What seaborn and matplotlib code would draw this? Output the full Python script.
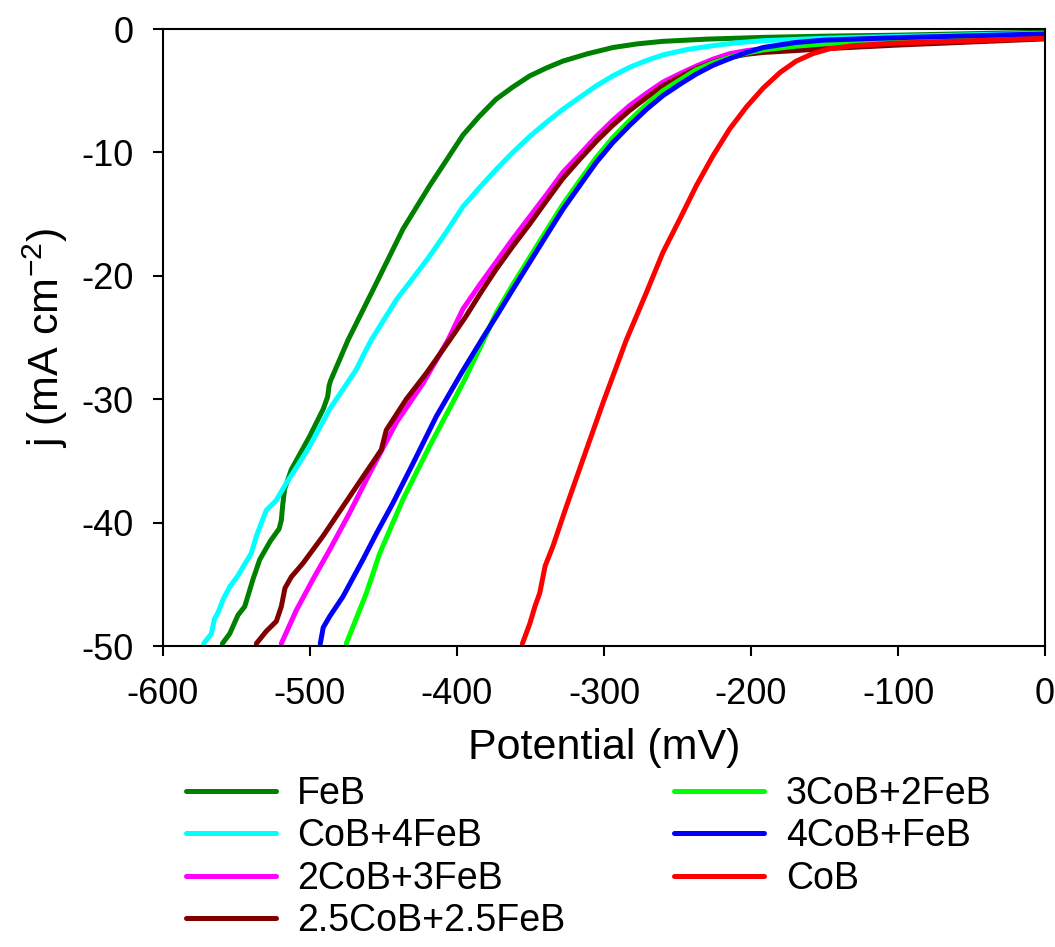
import matplotlib
matplotlib.use("Agg")
import matplotlib.pyplot as plt
import seaborn as sns
import pandas as pd

# Data: (potential mV, current density mA cm-2)
feb_v = [-559.6, -554.6, -549, -544.4, -538.8, -534.2, -527, -521, -519.5, -518.5, -517.3, -512.7,
         -500.2, -491, -488, -487, -486, -474.1, -454.9, -436.7, -418.6, -407, -396, -385, -373.5,
         -362, -350.5, -339, -327.9, -311, -293.9, -277, -259.9, -230, -191.8, -150, -100, -50, 0]
feb_j = [-49.8, -49.0, -47.5, -46.8, -44.6, -43.0, -41.5, -40.5, -39.8, -38.5, -37.3, -35.7,
         -33.0, -30.8, -29.8, -28.9, -28.5, -25.2, -20.6, -16.2, -12.7, -10.6, -8.6, -7.1, -5.7,
         -4.7, -3.8, -3.15, -2.6, -2.0, -1.5, -1.2, -1.0, -0.82, -0.68, -0.58, -0.5, -0.38, -0.25]

cob4feb_v = [-572.3, -567.1, -565, -562.6, -559, -554.6, -549, -545.6, -540, -536.5, -533, -529.7,
             -523, -516.1, -508, -500.2, -486.6, -468.5, -464, -458.3, -441, -430, -418.6, -407,
             -396, -385, -373.5, -362, -350.5, -339, -327.9, -316, -305.2, -294, -282.5, -271,
             -259.9, -243, -225.9, -210, -191.8, -150, -100, -50, 0]
cob4feb_j = [-49.8, -49.0, -47.8, -47.3, -46.2, -45.2, -44.3, -43.6, -42.5, -41.1, -40.0, -39.0,
             -38.2, -36.8, -35.3, -33.8, -30.8, -27.6, -26.5, -25.2, -21.9, -20.2, -18.4, -16.4,
             -14.4, -12.9, -11.4, -10.0, -8.7, -7.55, -6.5, -5.5, -4.6, -3.8, -3.1, -2.55,
             -2.1, -1.65, -1.35, -1.12, -0.95, -0.75, -0.6, -0.47, -0.35]

cob2feb3_v = [-519.5, -509.3, -498, -486.6, -473, -459.4, -441.3, -423.1, -406.1, -396, -385,
              -373.5, -362, -350.5, -339, -327.9, -316, -305.2, -294, -282.5, -271, -259.9, -248,
              -237.2, -226, -214.5, -203, -191.8, -170, -150, -100, -50, 0]
cob2feb3_j = [-49.8, -47.1, -44.6, -42.2, -39.2, -36.0, -31.9, -28.7, -25.2, -22.7, -20.8,
              -18.9, -17.0, -15.2, -13.4, -11.6, -10.1, -8.7, -7.4, -6.2, -5.2, -4.3, -3.6,
              -3.0, -2.45, -2.0, -1.75, -1.6, -1.42, -1.3, -1.05, -0.82, -0.6]

cob25_v = [-536.5, -529.7, -522.9, -519.5, -517, -512.7, -504.8, -491.2, -477.6, -464, -451.5,
           -448.1, -434.5, -420.9, -404.9, -394, -384, -373.5, -362, -350.5, -339, -327.9, -316,
           -305.2, -294, -282.5, -271, -259.9, -248, -237.2, -226, -214.5, -203, -191.8, -170,
           -150, -100, -50, 0]
cob25_j = [-49.8, -48.8, -48.0, -46.8, -45.3, -44.4, -43.3, -41.1, -38.7, -36.3, -34.1,
           -32.5, -30.0, -27.9, -25.2, -23.3, -21.4, -19.5, -17.6, -15.8, -13.9, -12.1, -10.5,
           -9.1, -7.8, -6.6, -5.55, -4.6, -3.85, -3.2, -2.7, -2.3, -2.05, -1.9, -1.75,
           -1.6, -1.3, -1.05, -0.8]

cob3feb2_v = [-475.3, -461.6, -452.6, -436.7, -418.6, -396, -383, -373.3, -362, -350.5, -339,
              -327.9, -316, -305.2, -294, -282.5, -271, -259.9, -248, -237.2, -226, -214.5, -203,
              -191.8, -170, -150, -100, -50, 0]
cob3feb2_j = [-49.8, -45.7, -42.5, -38.1, -33.8, -28.7, -25.5, -23.0, -20.7, -18.5, -16.3,
              -14.2, -12.2, -10.4, -8.8, -7.4, -6.1, -5.0, -4.1, -3.3, -2.75, -2.3, -1.95,
              -1.7, -1.4, -1.2, -0.85, -0.68, -0.5]

cob4feb1_v = [-493, -491, -486.6, -477.6, -464, -454.9, -443.5, -429.9, -414.1, -397.1, -382.3,
              -373.3, -362, -350.5, -339, -327.9, -316, -305.2, -294, -282.5, -271, -259.9, -248,
              -237.2, -226, -214.5, -203, -191.8, -170, -150, -100, -50, 0]
cob4feb1_j = [-49.8, -48.5, -47.6, -46.0, -43.0, -40.9, -38.4, -35.2, -31.4, -27.9, -25.0,
              -23.3, -21.1, -18.9, -16.7, -14.6, -12.6, -10.8, -9.2, -7.8, -6.5, -5.4, -4.45,
              -3.65, -2.95, -2.4, -1.9, -1.5, -1.1, -0.9, -0.7, -0.55, -0.4]

cob_v = [-355.5, -350.5, -347, -343.7, -340, -334.7, -325.6, -312, -300.7, -284.8, -272, -259.9,
         -248, -237.2, -226, -214.5, -203, -191.8, -180, -169.2, -158, -146.5, -130, -101.2, -50, 0]
cob_j = [-49.8, -48.2, -46.8, -45.7, -43.5, -41.9, -38.7, -34.1, -30.3, -25.2, -21.6, -18.1,
         -15.3, -12.7, -10.3, -8.1, -6.3, -4.8, -3.5, -2.6, -2.0, -1.6, -1.35, -1.14, -0.95, -0.76]

labels = ["FeB", "CoB+4FeB", "2CoB+3FeB", "2.5CoB+2.5FeB", "3CoB+2FeB", "4CoB+FeB", "CoB"]
colors = ["#008000", "#00FFFF", "#FF00FF", "#800000", "#00FF00", "#0000FF", "#FF0000"]
series = [(feb_v, feb_j), (cob4feb_v, cob4feb_j), (cob2feb3_v, cob2feb3_j), (cob25_v, cob25_j),
          (cob3feb2_v, cob3feb2_j), (cob4feb1_v, cob4feb1_j), (cob_v, cob_j)]
x_ticks = [-600, -500, -400, -300, -200, -100, 0]
y_ticks = [0, -10, -20, -30, -40, -50]

sns.set_theme(style="white")
plt.rcParams['font.family'] = ['Liberation Sans', 'DejaVu Sans']
plt.rcParams['axes.unicode_minus'] = False
plt.rcParams['mathtext.fontset'] = 'custom'
plt.rcParams['mathtext.rm'] = 'Liberation Sans'
plt.rcParams['mathtext.it'] = 'Liberation Sans'
for k in ['text.color', 'axes.labelcolor', 'xtick.color', 'ytick.color']:
    plt.rcParams[k] = 'black'

LW = 3.6
fig = plt.figure(figsize=(10.55, 9.47), dpi=100)
ax = fig.add_axes([163 / 1055, 1 - 646 / 947, (1045 - 163) / 1055, (646 - 29) / 947])

for (v, j), lab, col in zip(series, labels, colors):
    df = pd.DataFrame({"V": v, "j": j})
    sns.lineplot(data=df, x="V", y="j", color=col, label=lab, sort=False,
                 linewidth=LW, ax=ax, legend=False)

ax.set_xlim(-600, 0)
ax.set_ylim(-50, 0)
ax.set_xticks(x_ticks)
ax.set_xticklabels([str(t) for t in x_ticks])
ax.set_yticks(y_ticks)
ax.set_yticklabels([str(t) for t in y_ticks])
ax.tick_params(axis='both', direction='out', length=7, width=1.5, color='black',
               labelsize=26, labelcolor='black', bottom=True, left=True)
ax.tick_params(axis='x', pad=15)
ax.tick_params(axis='y', pad=14)
for s in ax.spines.values():
    s.set_visible(True)
    s.set_color('black')
    s.set_linewidth(1.5)

ax.set_xlabel("Potential (mV)", fontsize=31, color='black', labelpad=12)
ax.set_ylabel("j (mA cm$^{-2}$)", fontsize=31, color='black', labelpad=8)

handles = [plt.Line2D([], [], color=c, linewidth=LW) for c in colors]
fig.legend(handles, labels, loc='upper left', bbox_to_anchor=(186 / 1055, 1 - 776 / 947),
           ncol=2, frameon=False, fontsize=27, handlelength=2.4, handletextpad=0.57,
           labelspacing=0.17, columnspacing=2.9, borderpad=0, borderaxespad=0)

fig.savefig("out.png", dpi=100, facecolor='white')
